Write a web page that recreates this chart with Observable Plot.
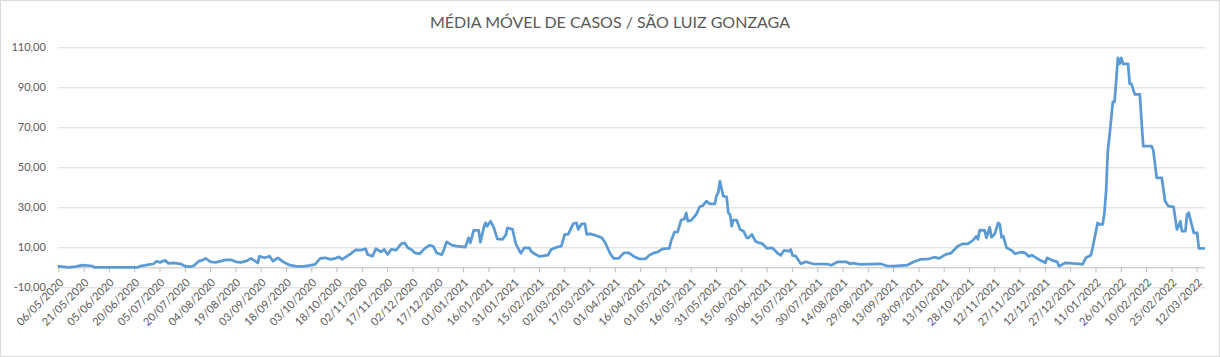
<!DOCTYPE html>
<html><head><meta charset="utf-8">
<script src="https://cdn.jsdelivr.net/npm/d3@7"></script>
<script src="https://cdn.jsdelivr.net/npm/@observablehq/plot@0.6"></script>
<style>
html,body{margin:0;padding:0;background:#fff;}
#chart{width:1220px;height:357px;box-sizing:border-box;border:1px solid #d9d9d9;position:relative;overflow:hidden;font-family:Lato,"Open Sans",sans-serif;}
#plot{position:absolute;left:0;top:0;}
#title{position:absolute;left:0;right:0;top:11px;text-align:center;font-size:16px;color:#595959;line-height:20px;}
</style></head><body>
<div id="chart"><div id="plot"></div><div id="title">MÉDIA MÓVEL DE CASOS / SÃO LUIZ GONZAGA</div></div>
<script>
const title = "MÉDIA MÓVEL DE CASOS / SÃO LUIZ GONZAGA";
const dates = ["2020-05-06","2020-05-12","2020-05-16","2020-05-20","2020-05-26","2020-05-27","2020-06-22","2020-06-23","2020-06-26","2020-06-29","2020-07-01","2020-07-03","2020-07-05","2020-07-08","2020-07-10","2020-07-13","2020-07-17","2020-07-20","2020-07-23","2020-07-25","2020-07-28","2020-07-30","2020-08-01","2020-08-04","2020-08-07","2020-08-10","2020-08-13","2020-08-16","2020-08-19","2020-08-22","2020-08-25","2020-08-28","2020-09-01","2020-09-02","2020-09-05","2020-09-08","2020-09-10","2020-09-13","2020-09-16","2020-09-20","2020-09-24","2020-09-28","2020-10-02","2020-10-05","2020-10-08","2020-10-11","2020-10-14","2020-10-17","2020-10-19","2020-10-21","2020-10-24","2020-10-26","2020-10-29","2020-11-01","2020-11-04","2020-11-05","2020-11-08","2020-11-10","2020-11-13","2020-11-15","2020-11-17","2020-11-19","2020-11-22","2020-11-25","2020-11-27","2020-11-29","2020-12-01","2020-12-03","2020-12-06","2020-12-09","2020-12-12","2020-12-14","2020-12-16","2020-12-19","2020-12-20","2020-12-22","2020-12-25","2020-12-28","2021-01-02","2021-01-04","2021-01-05","2021-01-07","2021-01-10","2021-01-11","2021-01-13","2021-01-14","2021-01-15","2021-01-17","2021-01-19","2021-01-21","2021-01-24","2021-01-26","2021-01-27","2021-01-30","2021-02-01","2021-02-02","2021-02-04","2021-02-06","2021-02-09","2021-02-10","2021-02-12","2021-02-15","2021-02-20","2021-02-22","2021-02-26","2021-02-28","2021-03-02","2021-03-04","2021-03-07","2021-03-09","2021-03-10","2021-03-12","2021-03-14","2021-03-15","2021-03-17","2021-03-20","2021-03-24","2021-03-26","2021-03-29","2021-03-31","2021-04-03","2021-04-06","2021-04-09","2021-04-12","2021-04-15","2021-04-19","2021-04-21","2021-04-24","2021-04-26","2021-04-29","2021-05-03","2021-05-04","2021-05-06","2021-05-08","2021-05-10","2021-05-12","2021-05-13","2021-05-14","2021-05-16","2021-05-19","2021-05-21","2021-05-23","2021-05-25","2021-05-27","2021-05-30","2021-05-31","2021-06-01","2021-06-02","2021-06-03","2021-06-04","2021-06-06","2021-06-07","2021-06-08","2021-06-09","2021-06-10","2021-06-12","2021-06-14","2021-06-16","2021-06-18","2021-06-19","2021-06-21","2021-06-23","2021-06-25","2021-06-27","2021-06-30","2021-07-03","2021-07-06","2021-07-08","2021-07-10","2021-07-13","2021-07-14","2021-07-15","2021-07-17","2021-07-20","2021-07-23","2021-07-27","2021-08-05","2021-08-07","2021-08-11","2021-08-16","2021-08-18","2021-08-20","2021-08-24","2021-09-05","2021-09-09","2021-09-13","2021-09-21","2021-09-25","2021-09-29","2021-10-04","2021-10-07","2021-10-10","2021-10-14","2021-10-17","2021-10-21","2021-10-24","2021-10-27","2021-10-30","2021-11-01","2021-11-02","2021-11-03","2021-11-06","2021-11-07","2021-11-09","2021-11-10","2021-11-12","2021-11-14","2021-11-15","2021-11-16","2021-11-17","2021-11-19","2021-11-22","2021-11-24","2021-11-27","2021-11-30","2021-12-02","2021-12-04","2021-12-08","2021-12-12","2021-12-13","2021-12-16","2021-12-19","2021-12-20","2021-12-24","2021-12-28","2022-01-01","2022-01-03","2022-01-05","2022-01-08","2022-01-09","2022-01-12","2022-01-13","2022-01-15","2022-01-16","2022-01-17","2022-01-18","2022-01-19","2022-01-21","2022-01-22","2022-01-24","2022-01-25","2022-01-26","2022-01-27","2022-01-30","2022-01-31","2022-02-01","2022-02-03","2022-02-06","2022-02-07","2022-02-08","2022-02-13","2022-02-14","2022-02-16","2022-02-19","2022-02-21","2022-02-23","2022-02-26","2022-02-28","2022-03-01","2022-03-02","2022-03-03","2022-03-05","2022-03-06","2022-03-07","2022-03-10","2022-03-12","2022-03-13","2022-03-16"];
const values = [0.7,0.2,0.6,1.3,0.9,0.2,0.2,0.8,1.2,1.7,1.9,3.3,2.7,3.7,2.2,2.5,2.0,0.8,0.5,1.0,3.3,3.7,4.7,3.0,2.7,3.3,4.0,4.0,3.0,2.7,3.3,4.7,2.5,5.8,5.0,5.8,3.3,5.0,3.0,1.3,0.7,0.7,1.2,1.7,4.7,5.0,4.2,4.7,5.5,4.2,5.8,7.0,9.0,8.8,9.5,6.7,5.8,9.5,8.0,9.2,6.7,9.2,8.8,12.0,12.5,10.0,9.2,7.5,7.0,9.7,11.3,10.8,7.5,6.5,8.3,13.0,11.3,10.8,10.3,15.0,12.5,18.7,18.7,12.8,20.0,22.5,20.8,23.3,20.0,14.5,14.2,16.3,20.0,19.2,12.0,10.3,7.2,10.0,10.0,8.3,7.0,5.7,6.3,9.2,10.5,10.8,16.7,16.7,22.0,22.5,19.2,22.0,22.0,16.7,17.0,16.3,15.0,12.5,7.0,4.7,4.7,7.5,7.5,5.7,4.5,4.5,6.2,7.5,7.8,9.5,9.7,13.3,17.8,18.0,23.8,24.5,27.5,23.3,23.7,26.7,30.5,31.2,33.3,32.0,32.0,36.2,37.5,43.3,39.5,35.8,35.5,27.5,26.7,20.8,23.8,23.8,19.2,18.3,15.0,15.0,16.7,13.3,12.5,12.2,9.7,10.0,7.5,6.2,8.7,8.3,9.2,6.2,5.8,2.0,3.0,2.0,1.8,1.3,3.0,3.0,2.0,2.3,1.7,2.0,1.0,0.8,1.3,3.0,4.2,4.5,5.3,4.7,6.7,7.3,10.8,12.0,12.0,13.7,15.7,14.2,18.8,18.7,15.0,20.3,15.3,17.0,22.5,21.7,15.3,15.8,10.0,8.7,7.0,7.8,7.5,5.7,6.3,4.2,2.5,5.0,3.7,3.0,0.8,2.5,2.2,2.0,1.7,5.0,6.3,10.0,22.5,21.7,21.7,27.5,38.3,58.3,65.8,83.0,83.0,105.0,102.0,105.0,102.0,102.0,92.0,92.0,86.7,86.7,73.3,60.8,60.8,58.7,45.0,45.0,33.3,30.8,30.5,19.2,20.8,23.3,18.3,18.3,26.7,27.5,17.5,17.5,9.7,9.7];
const yTicks = [-10,10,30,50,70,90,110];
const xTickLabels = ["06/05/2020","21/05/2020","05/06/2020","20/06/2020","05/07/2020","20/07/2020","04/08/2020","19/08/2020","03/09/2020","18/09/2020","03/10/2020","18/10/2020","02/11/2020","17/11/2020","02/12/2020","17/12/2020","01/01/2021","16/01/2021","31/01/2021","15/02/2021","02/03/2021","17/03/2021","01/04/2021","16/04/2021","01/05/2021","16/05/2021","31/05/2021","15/06/2021","30/06/2021","15/07/2021","30/07/2021","14/08/2021","29/08/2021","13/09/2021","28/09/2021","13/10/2021","28/10/2021","12/11/2021","27/11/2021","12/12/2021","27/12/2021","11/01/2022","26/01/2022","10/02/2022","25/02/2022","12/03/2022"];
const xDomain = ["2020-05-06","2022-03-17"];

const parseIso = d3.utcParse("%Y-%m-%d");
const parseBr = d3.utcParse("%d/%m/%Y");
const data = dates.map((d, i) => ({date: parseIso(d), value: values[i]}));
const xTicks = xTickLabels.map(s => ({date: parseBr(s), label: s}));
const fmtY = v => v.toFixed(2).replace(".", ",");

const chart = Plot.plot({
  width: 1218, height: 355,
  marginTop: 46.3, marginBottom: 68.7, marginLeft: 57.3, marginRight: 13.9,
  style: {fontFamily: "Lato, 'Open Sans', sans-serif", fontSize: "11px", color: "#595959", background: "transparent", overflow: "visible"},
  x: {type: "utc", domain: xDomain.map(parseIso), axis: null},
  y: {domain: [-10, 110], axis: null},
  marks: [
    Plot.ruleY(yTicks, {stroke: "#d9d9d9", strokeWidth: 1}),
    Plot.ruleY([0], {stroke: "#bfbfbf", strokeWidth: 1}),
    Plot.ruleX(xTicks, {x: "date", y1: () => 0, y2: () => -2.5, stroke: "#bfbfbf", strokeWidth: 1}),
    Plot.text(yTicks, {y: d => d, text: fmtY, frameAnchor: "left", textAnchor: "end", dx: -13, fill: "#595959", fontSize: 11}),
    Plot.text(xTicks, {x: "date", y: () => 0, text: "label", rotate: -45, textAnchor: "end", dx: 3, dy: 13, fill: "#595959", fontSize: 11}),
    Plot.line(data, {x: "date", y: "value", stroke: "#5b9bd5", strokeWidth: 2.75, strokeLinejoin: "round", strokeLinecap: "round"})
  ]
});
document.getElementById("plot").appendChild(chart);
</script>
</body></html>
